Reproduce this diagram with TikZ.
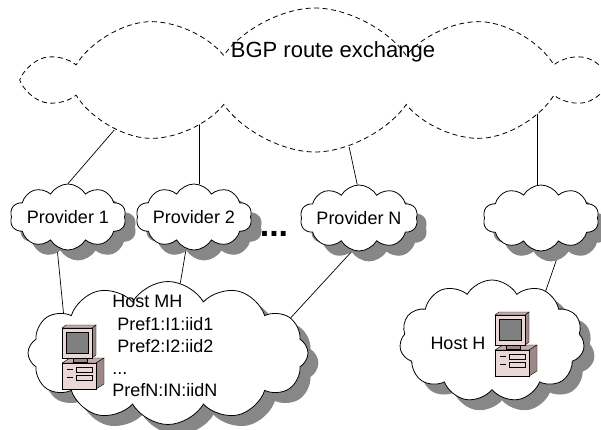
\documentclass[tikz,border=0pt]{standalone}
\usepackage{fontspec}
\setmainfont{Liberation Sans}
\usetikzlibrary{shapes.symbols,backgrounds}

\definecolor{pcface}{RGB}{234,216,216}
\definecolor{pcside}{RGB}{196,170,170}
\definecolor{pcscreen}{RGB}{128,128,128}
\definecolor{cloudgray}{RGB}{135,135,135}

\begin{document}
\begin{tikzpicture}[x=1pt,y=-1pt,line width=0.8pt]

\tikzset{net/.style={cloud, cloud puffs=10, cloud puff arc=120, cloud ignores aspect, draw, fill=white, inner sep=0pt, font=\fontsize{18}{21}\selectfont},
cloudshadow/.style={draw=cloudgray, fill=cloudgray},
provider/.style={net, minimum width=116pt, minimum height=66pt},
hostmh/.style={net, cloud puffs=12, minimum width=280pt, minimum height=143pt},
hosth/.style={net, cloud puffs=11, minimum width=185pt, minimum height=122pt},
link/.style={line width=0.7pt},
%small desktop computer, origin at top left of the monitor
pc/.pic={
\filldraw[pcside,draw=black,line width=0.4pt] (0,38) -- (8,33) -- (42,33) -- (34,38) -- cycle;
\filldraw[pcside!80!black,draw=black,line width=0.4pt] (34,38) -- (42,33) -- (42,59) -- (34,64) -- cycle;
\filldraw[pcface,draw=black,line width=0.4pt] (0,38) rectangle (34,64);
\draw[line width=0.4pt] (14,42) rectangle (30,47) (14,50) rectangle (30,55) (5,44) -- (11,44) (5,52) -- (11,52);
\filldraw[pcside!80!black,draw=black,line width=0.4pt] (11,33) rectangle (25,37);
\filldraw[pcside,draw=black,line width=0.4pt] (0,3) -- (4,0) -- (34,0) -- (30,3) -- cycle;
\filldraw[pcside!80!black,draw=black,line width=0.4pt] (30,3) -- (34,0) -- (34,30) -- (30,33) -- cycle;
\filldraw[pcface,draw=black,line width=0.4pt] (0,3) rectangle (30,33);
\filldraw[pcscreen,draw=black,line width=0.4pt] (4,7) rectangle (26,28);
}}

\newcommand{\shadowoff}{10}

\useasboundingbox (0,0) rectangle (601,429);

\node[net, dashed, dash pattern=on 5pt off 3.5pt, cloud puffs=10, cloud puff arc=110, minimum width=570pt, minimum height=144pt] (bgp) at (315,80) {};
\node[font=\fontsize{22}{26}\selectfont] (bgptext) at (333,52) {BGP route exchange};

\node[provider, cloudshadow] (p1s) at (68+\shadowoff,217+\shadowoff) {};
\node[provider] (p1) at (68,217) {Provider 1};
\node[provider, cloudshadow] (p2s) at (194+\shadowoff,217+\shadowoff) {};
\node[provider] (p2) at (194,217) {Provider 2};
\node[provider, cloudshadow] (pns) at (359+\shadowoff,218+\shadowoff) {};
\node[provider] (pn) at (359,218) {Provider N};
\node[provider, cloudshadow] (p4s) at (541+\shadowoff,218+\shadowoff) {};
\node[provider] (p4) at (541,218) {};
\node[inner sep=0pt, font=\fontsize{34}{34}\selectfont\bfseries] (dots) at (274,234) {...};

\node[hostmh, cloudshadow] (mhs) at (168+\shadowoff,353+\shadowoff) {};
\node[hostmh] (mh) at (168,353) {};
\node[align=left, anchor=north west, inner sep=0pt, font=\fontsize{18}{22.3}\selectfont] (mhtext) at (112,295) {Host MH\\\hspace*{5pt}Pref1:I1:iid1\\\hspace*{5pt}Pref2:I2:iid2\\...\\PrefN:IN:iidN};
\pic at (62,325) {pc};

\node[hosth, cloudshadow] (hs) at (492+\shadowoff,341+\shadowoff) {};
\node[hosth] (h) at (492,341) {};
\node[font=\fontsize{18}{21}\selectfont] (htext) at (458,343) {Host H};
\pic at (495,312) {pc};

\begin{scope}[on background layer]
\draw[link] (p1.90) -- (bgp.194);
\draw[link] (p2.80) -- (p2.80 |- bgp.center);
\draw[link] (pn.93) -- (bgp.297);
\draw[link] (p4.97) -- (p4.97 |- bgp.center);
\draw[link] (p1.250) -- (mh.159);
\draw[link] (p2.256) -- (mh.80);
\draw[link] (pn.259) -- (mh.16);
\draw[link] (p4.309) -- (h.43);
\end{scope}

\end{tikzpicture}
\end{document}
